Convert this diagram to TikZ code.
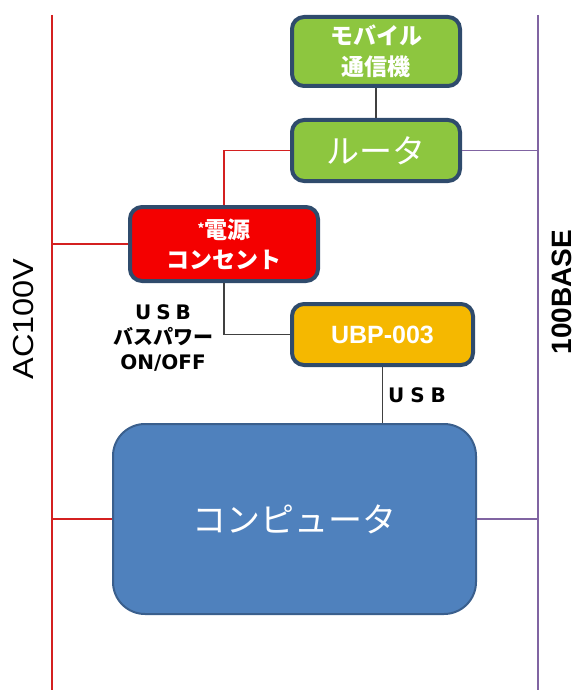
\documentclass[tikz,border=0pt]{standalone}
\usepackage{fontspec}
\setmainfont{Liberation Sans}
\newfontfamily\jp{Noto Sans CJK JP}
\newfontfamily\dv{DejaVu Sans}
\definecolor{gfill}{HTML}{8DC63F}
\definecolor{bord}{HTML}{2F4B6C}
\definecolor{rfill}{HTML}{F40000}
\definecolor{yfill}{HTML}{F5B800}
\definecolor{cfill}{HTML}{4F81BD}
\definecolor{cbord}{HTML}{3A5F8D}
\definecolor{redl}{HTML}{D42020}
\definecolor{purl}{HTML}{8064A2}
\definecolor{grayl}{HTML}{404040}
\tikzset{
  box/.style={draw=bord, line width=4pt, rounded corners=12pt, inner sep=0pt, text=white, align=center},
  redline/.style={draw=redl, line width=1.5pt},
  purline/.style={draw=purl, line width=1.5pt},
  grayline/.style={draw=grayl, line width=1.5pt},
}
\begin{document}
\begin{tikzpicture}[x=1pt, y=-1pt]
\useasboundingbox (0,0) rectangle (577,695);
% buses
\coordinate (Ltop) at (52,15);
\coordinate (Lbot) at (52,690);
\coordinate (Rtop) at (538,15);
\coordinate (Rbot) at (538,690);
\draw[redline] (Ltop) -- (Lbot);
\draw[purline] (Rtop) -- (Rbot);
% boxes
\node[box, fill=gfill, minimum width=168pt, minimum height=69pt, font=\jp\bfseries\fontsize{23}{31}\selectfont] (mob) at (376,51.5) {モバイル\\通信機};
\node[box, fill=gfill, minimum width=168pt, minimum height=61pt, font=\jp\fontsize{33}{36}\selectfont] (rou) at (376,150.5) {ルータ};
\node[box, fill=rfill, minimum width=188pt, minimum height=74pt, font=\jp\bfseries\fontsize{23}{30}\selectfont] (out) at (224,244) {\raisebox{5pt}{\fontsize{13}{13}\selectfont *}電源\\コンセント};
\node[box, fill=yfill, minimum width=181pt, minimum height=61pt, font=\bfseries\fontsize{25}{28}\selectfont] (ubp) at (382.5,334.5) {UBP-003};
\node[box, draw=cbord, line width=2pt, rounded corners=32pt, fill=cfill, minimum width=363pt, minimum height=190pt, font=\jp\fontsize{34}{38}\selectfont] (com) at (294.5,519) {コンピュータ};
% connectors
\draw[grayline] (mob.south) -- (rou.north);
\draw[redline] (rou.west) -| (out.north);
\draw[purline] (rou.east) -- (rou.east -| Rtop);
\draw[redline] (out.west) -- (out.west -| Ltop);
\draw[grayline] (out.south) |- (ubp.west);
\draw[grayline] (ubp.south) -- (ubp.south |- com.north);
\draw[redline] (com.west) -- (com.west -| Ltop);
\draw[purline] (com.east) -- (com.east -| Rtop);
% labels
\node[align=center, inner sep=0pt, font=\dv\bfseries\fontsize{20}{25}\selectfont] (lbl) at (163,338) {U\hspace{5pt}S\hspace{5pt}B\\{\jp\bfseries バスパワー}\\ON/OFF};
\node[inner sep=0pt, font=\dv\bfseries\fontsize{20}{24}\selectfont] (usb) at (417,395) {U\hspace{6pt}S\hspace{6pt}B};
\node[rotate=90, inner sep=0pt, font=\fontsize{29}{34}\selectfont] (ac) at (24,319) {\scalebox{1.12}[1]{AC100V}};
\node[rotate=90, inner sep=0pt, font=\bfseries\fontsize{28}{30}\selectfont] (base) at (562,292) {100BASE};
\end{tikzpicture}
\end{document}
